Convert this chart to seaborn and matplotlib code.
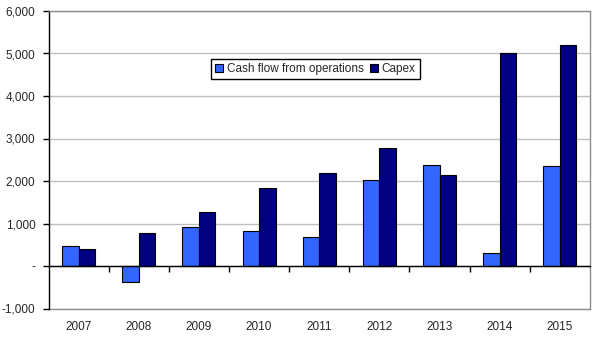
import matplotlib
matplotlib.use("Agg")
import matplotlib.pyplot as plt
import seaborn as sns
import pandas as pd
from matplotlib.ticker import FuncFormatter, FixedLocator

years = ["2007", "2008", "2009", "2010", "2011", "2012", "2013", "2014", "2015"]
cash_flow_ops = [470, -375, 915, 825, 685, 2020, 2380, 305, 2350]
capex = [405, 775, 1270, 1840, 2185, 2780, 2140, 5000, 5200]
series_names = ["Cash flow from operations", "Capex"]
colors = ["#3366FF", "#000080"]

df = pd.DataFrame({
    "year": years * 2,
    "value": cash_flow_ops + capex,
    "series": [series_names[0]] * len(years) + [series_names[1]] * len(years),
})

sns.set_style("white")
plt.rcParams["font.family"] = ["Liberation Sans", "DejaVu Sans"]

fig = plt.figure(figsize=(6.03, 3.37), dpi=100)
ax = fig.add_axes([48.5 / 603, 1 - 308.5 / 337, (590 - 48.5) / 603, (308.5 - 11) / 337])

sns.barplot(data=df, x="year", y="value", hue="series", hue_order=series_names,
            palette=colors, order=years, width=0.55, edgecolor="black",
            linewidth=0.8, saturation=1, ax=ax, zorder=3)

ax.set_ylim(-1000, 6000)
ax.set_xlim(-0.5, len(years) - 0.5)
ax.set_yticks(range(-1000, 6001, 1000))
ax.yaxis.set_major_formatter(FuncFormatter(lambda v, p: "-" if v == 0 else f"{int(v):,}"))
ax.yaxis.grid(True, color="#BFBFBF", linewidth=1, zorder=0)
ax.set_axisbelow(True)
ax.set_xlabel("")
ax.set_ylabel("")
ax.tick_params(axis="y", direction="out", length=4, width=1, color="black",
               labelsize=8.5, pad=5.5, left=True)

# primary x-axis: spine on zero line with ticks at category boundaries
ax.spines["bottom"].set_position(("data", 0))
ax.spines["bottom"].set_color("black")
ax.spines["bottom"].set_linewidth(1)
ax.spines["bottom"].set_zorder(4)
ax.xaxis.set_major_locator(FixedLocator([i + 0.5 for i in range(len(years) - 1)]))
ax.tick_params(axis="x", direction="out", length=4, width=1, color="black",
               labelbottom=False, bottom=True)

ax.spines["left"].set_color("black")
ax.spines["left"].set_linewidth(1)
for s in ["top", "right"]:
    ax.spines[s].set_visible(True)
    ax.spines[s].set_color("#8C8C8C")
    ax.spines[s].set_linewidth(1)

sec = ax.secondary_xaxis("bottom")
sec.set_xticks(range(len(years)))
sec.set_xticklabels(years)
sec.tick_params(length=0, labelsize=8.5, pad=9)
sec.spines["bottom"].set_color("#8C8C8C")
sec.spines["bottom"].set_linewidth(1)

leg = ax.legend(loc="center", bbox_to_anchor=(315.5 / 603, 1 - 69 / 337),
                bbox_transform=fig.transFigure, ncol=2, frameon=True,
                fancybox=False, edgecolor="black", framealpha=1,
                fontsize=8.5, handlelength=0.65, handleheight=0.65,
                handletextpad=0.35, columnspacing=0.5, borderpad=0.35,
                borderaxespad=0)
leg.get_frame().set_linewidth(1)

fig.savefig("out.png", dpi=100)
